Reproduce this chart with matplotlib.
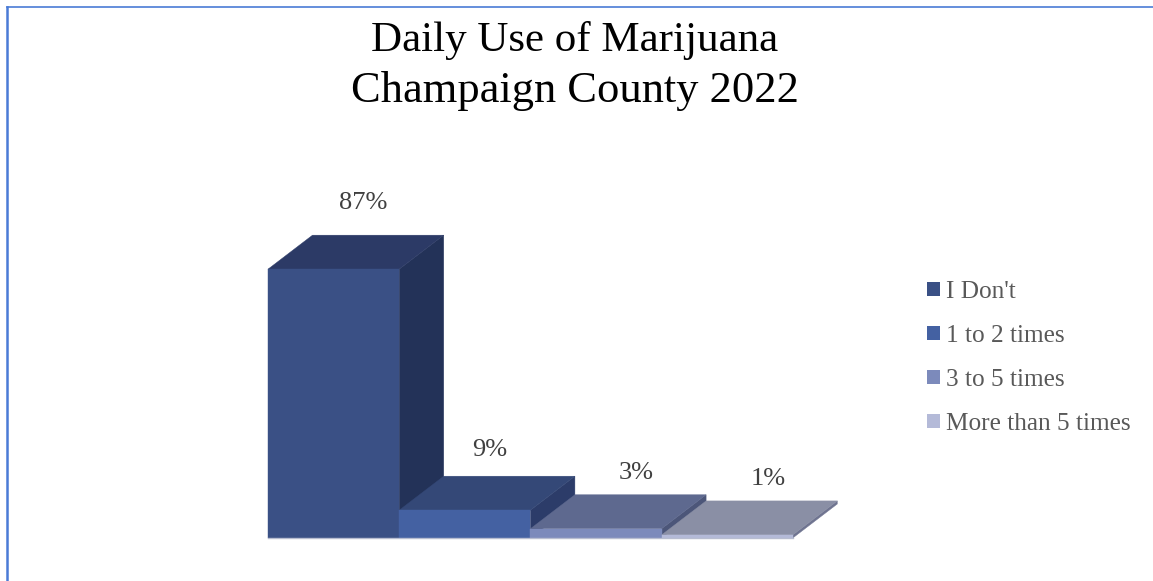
import matplotlib
matplotlib.use("Agg")
import matplotlib.pyplot as plt
from matplotlib.lines import Line2D
from matplotlib.patches import Patch, Polygon

categories = ["I Don't", "1 to 2 times", "3 to 5 times", "More than 5 times"]
values = [87, 9, 3, 1]
value_labels = ["87%", "9%", "3%", "1%"]

front_colors = ["#3A5085", "#4461A2", "#7C8ABB", "#B4BAD8"]
top_colors = ["#2C3A66", "#344877", "#5E698F", "#8A8FA5"]
side_colors = ["#233258", "#2C3C69", "#4C5679", "#6F7490"]
# pixels, from the top of the back edge of each bar
label_nudge = [(30, 32), (25, 26), (40, 22), (41, 22)]

W, H = 1153, 581
plt.rcParams["font.family"] = ["Liberation Serif", "DejaVu Serif"]

fig = plt.figure(figsize=(W / 100, H / 100), dpi=100)

# bars are 131.2 px wide, 1 percent is 3.09 px, 3d depth is 44.5 px across and 34 up
ax = fig.add_axes([268 / W, (H - 538) / H, 572 / W, 303 / H])
px_x = 1 / 131.2
px_y = 1 / 3.09
depth_x = 44.5 * px_x
depth_y = 34 * px_y
ax.set_xlim(0, 572 * px_x)
ax.set_ylim(0, 303 * px_y)
ax.axis("off")

for i, v in enumerate(values):
    front = [(i, 0), (i + 1, 0), (i + 1, v), (i, v)]
    top = [(i, v), (i + 1, v), (i + 1 + depth_x, v + depth_y), (i + depth_x, v + depth_y)]
    side = [(i + 1, 0), (i + 1 + depth_x, depth_y), (i + 1 + depth_x, v + depth_y), (i + 1, v)]
    # thin edge in the face colour closes the seams between faces
    ax.add_patch(Polygon(side, facecolor=side_colors[i], edgecolor=side_colors[i], lw=0.3, clip_on=False))
    ax.add_patch(Polygon(top, facecolor=top_colors[i], edgecolor=top_colors[i], lw=0.3, clip_on=False))
    ax.add_patch(Polygon(front, facecolor=front_colors[i], edgecolor=front_colors[i], lw=0.3, clip_on=False))
    nudge = label_nudge[i]
    ax.text(i + 0.5 + nudge[0] * px_x, v + depth_y + nudge[1] * px_y, value_labels[i],
            ha="center", va="center", fontsize=19, color="#404040")

ax.plot([0, 4], [0, 0], color="#B8BDD0", lw=1, clip_on=False)

fig.text(575 / W, 1 - 41 / H, "Daily Use of Marijuana", ha="center", va="center",
         fontsize=31, color="black")
fig.text(575 / W, 1 - 91 / H, "Champaign County 2022", ha="center", va="center",
         fontsize=32, color="black")

handles = [Patch(facecolor=c, edgecolor="none") for c in front_colors]
fig.legend(handles, categories, loc="center left", bbox_to_anchor=(927 / W, 1 - 358 / H),
           frameon=False, fontsize=18.2, labelcolor="#595959", handlelength=0.52,
           handleheight=0.52, handletextpad=0.24, labelspacing=0.87, borderpad=0,
           borderaxespad=0)

# blue frame on the top and left
border = "#4A7BD6"
fig.add_artist(Line2D([6.5 / W, 1], [1 - 6.5 / H, 1 - 6.5 / H], color=border, lw=1.2))
fig.add_artist(Line2D([6.5 / W, 6.5 / W], [0, 1 - 6.5 / H], color=border, lw=1.8))

fig.savefig("out.png", dpi=100)
